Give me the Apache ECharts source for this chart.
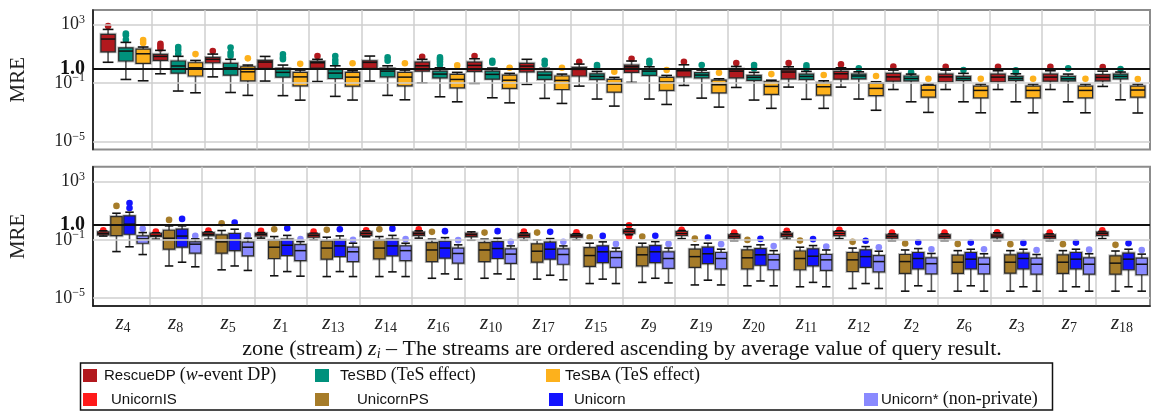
<!DOCTYPE html>
<html>
<head>
<meta charset="utf-8">
<script src="https://cdn.jsdelivr.net/npm/echarts@6/dist/echarts.min.js"></script>
<style>
  html, body { margin: 0; padding: 0; background: #fff; }
  #chart { width: 1152px; height: 412px; }
</style>
</head>
<body>
<div id="chart"></div>
<script>
// zones, ordered ascending by average query result
var zones = ['z4', 'z8', 'z5', 'z1', 'z13', 'z14', 'z16', 'z10', 'z17', 'z15',
             'z9', 'z19', 'z20', 'z11', 'z12', 'z2', 'z6', 'z3', 'z7', 'z18'];

// y ticks (MRE, log)
var yTicks = [1e3, 1e-1, 1e-5];
var yTickLabels = ['10{s|3}', '10{s|−1}', '10{s|−5}'];
var refValue = 1;
var refLabel = '1.0';

// box stats per zone: [min, q1, median, q3, max]
var rescueDP = [
  [2.7, 14, 105, 220, 480], [0.44, 3.6, 6.8, 9.4, 17.6], [0.27, 2.5, 4.3, 5.8, 9.8], [0.14, 1.03, 2.8, 3.6, 6.8],
  [0.13, 1.08, 2.5, 3.1, 4.3], [0.14, 1.03, 2.65, 3.4, 7.2], [0.106, 0.67, 1.55, 2.8, 4.3], [0.097, 0.64, 1.65, 2.8, 4.7],
  [0.083, 0.6, 1.48, 2.3, 4.3], [0.063, 0.31, 0.88, 1.2, 2.03], [0.113, 0.55, 1.33, 1.74, 3.3], [0.07, 0.27, 0.71, 0.88, 1.82],
  [0.051, 0.23, 0.67, 0.92, 1.4], [0.054, 0.2, 0.58, 0.79, 1.33], [0.054, 0.19, 0.44, 0.64, 1.13], [0.037, 0.14, 0.27, 0.47, 0.79],
  [0.037, 0.125, 0.27, 0.42, 0.79], [0.037, 0.125, 0.26, 0.42, 0.71], [0.037, 0.14, 0.26, 0.42, 0.71], [0.06, 0.146, 0.25, 0.38, 0.67]
];
var tesbd = [
  [0.18, 3.3, 15.8, 26, 62], [0.029, 0.49, 1.5, 3.3, 6.9], [0.023, 0.36, 1.13, 2.3, 4.3], [0.014, 0.26, 0.55, 1.03, 1.74],
  [0.0125, 0.21, 0.49, 0.83, 1.55], [0.0146, 0.27, 0.67, 1.03, 1.55], [0.0117, 0.23, 0.42, 0.67, 1.13], [0.01, 0.19, 0.4, 0.67, 1.08],
  [0.0091, 0.18, 0.36, 0.6, 1.03], [0.0082, 0.18, 0.29, 0.44, 0.64], [0.0082, 0.34, 0.67, 0.88, 1.33], [0.0095, 0.23, 0.36, 0.52, 0.79],
  [0.007, 0.155, 0.25, 0.34, 0.55], [0.0079, 0.18, 0.29, 0.42, 0.64], [0.0082, 0.2, 0.31, 0.42, 0.6], [0.0053, 0.146, 0.21, 0.31, 0.42],
  [0.0053, 0.155, 0.21, 0.29, 0.47], [0.0053, 0.155, 0.21, 0.29, 0.44], [0.0053, 0.146, 0.2, 0.29, 0.42], [0.0073, 0.2, 0.29, 0.42, 0.58]
];
var tesba = [
  [0.146, 2.3, 10.3, 21.6, 30], [0.022, 0.31, 1.13, 2.5, 3.6], [0.0146, 0.146, 0.6, 1.33, 1.74], [0.0069, 0.066, 0.27, 0.55, 0.79],
  [0.007, 0.063, 0.26, 0.55, 0.71], [0.0073, 0.066, 0.26, 0.55, 0.79], [0.0053, 0.048, 0.18, 0.4, 0.55], [0.0045, 0.044, 0.16, 0.36, 0.47],
  [0.0041, 0.037, 0.155, 0.31, 0.42], [0.0027, 0.0246, 0.087, 0.18, 0.25], [0.0035, 0.032, 0.12, 0.25, 0.34], [0.0023, 0.022, 0.078, 0.16, 0.2],
  [0.0019, 0.017, 0.06, 0.125, 0.16], [0.0019, 0.015, 0.057, 0.106, 0.146], [0.0014, 0.014, 0.044, 0.097, 0.125], [0.001, 0.011, 0.034, 0.07, 0.087],
  [0.00094, 0.01, 0.032, 0.063, 0.087], [0.00094, 0.01, 0.032, 0.063, 0.087], [0.00094, 0.01, 0.032, 0.063, 0.087], [0.00091, 0.011, 0.034, 0.063, 0.087]
];
var unicornIS = [
  [0.18, 0.22, 0.27, 0.35, 0.41], [0.11, 0.17, 0.2, 0.28, 0.3], [0.11, 0.19, 0.24, 0.31, 0.35], [0.13, 0.185, 0.24, 0.28, 0.31],
  [0.1, 0.15, 0.2, 0.25, 0.28], [0.16, 0.2, 0.27, 0.35, 0.41], [0.13, 0.2, 0.26, 0.33, 0.41], [0.093, 0.166, 0.22, 0.28, 0.35],
  [0.093, 0.15, 0.2, 0.25, 0.3], [0.1, 0.15, 0.19, 0.23, 0.26], [0.22, 0.28, 0.37, 0.48, 0.56], [0.12, 0.2, 0.27, 0.37, 0.43],
  [0.088, 0.128, 0.17, 0.22, 0.25], [0.11, 0.166, 0.22, 0.28, 0.35], [0.12, 0.19, 0.27, 0.37, 0.41], [0.088, 0.128, 0.17, 0.22, 0.25],
  [0.088, 0.128, 0.17, 0.22, 0.25], [0.088, 0.14, 0.18, 0.24, 0.3], [0.088, 0.128, 0.17, 0.22, 0.25], [0.12, 0.2, 0.27, 0.33, 0.37]
];
var unicornPS = [
  [0.0155, 0.19, 1.05, 3.9, 6.6], [0.0016, 0.0226, 0.128, 0.45, 0.9], [0.00087, 0.012, 0.072, 0.217, 0.43], [0.00034, 0.0052, 0.031, 0.094, 0.166],
  [0.0003, 0.0047, 0.027, 0.084, 0.15], [0.0003, 0.0049, 0.027, 0.094, 0.166], [0.00023, 0.0032, 0.02, 0.064, 0.11], [0.00023, 0.0032, 0.02, 0.064, 0.11],
  [0.0002, 0.0029, 0.0165, 0.052, 0.098], [0.0001, 0.0015, 0.0083, 0.029, 0.058], [0.00012, 0.0016, 0.0093, 0.031, 0.058], [0.00008, 0.0013, 0.007, 0.0226, 0.045],
  [0.00007, 0.001, 0.0058, 0.02, 0.034], [0.00006, 0.00088, 0.0052, 0.017, 0.031], [0.000046, 0.00067, 0.0042, 0.0134, 0.027], [0.00003, 0.00049, 0.0032, 0.0098, 0.02],
  [0.00003, 0.00049, 0.0029, 0.0088, 0.018], [0.00003, 0.00051, 0.0029, 0.0093, 0.018], [0.00003, 0.00049, 0.0029, 0.0093, 0.018], [0.00003, 0.00044, 0.0025, 0.0079, 0.017]
];
var unicorn = [
  [0.033, 0.24, 1.17, 4.3, 7.8], [0.0029, 0.031, 0.18, 0.53, 0.9], [0.0016, 0.018, 0.098, 0.27, 0.53], [0.00066, 0.0083, 0.042, 0.11, 0.2],
  [0.00066, 0.0071, 0.038, 0.098, 0.185], [0.00063, 0.0079, 0.038, 0.11, 0.2], [0.00046, 0.0055, 0.027, 0.08, 0.14], [0.00046, 0.0052, 0.025, 0.075, 0.128],
  [0.00037, 0.0047, 0.0226, 0.068, 0.12], [0.0002, 0.0027, 0.015, 0.038, 0.072], [0.00023, 0.0027, 0.015, 0.04, 0.075], [0.00017, 0.0023, 0.011, 0.031, 0.058],
  [0.00015, 0.0018, 0.0093, 0.025, 0.045], [0.00012, 0.0016, 0.0075, 0.024, 0.04], [0.0001, 0.0013, 0.007, 0.02, 0.034], [0.00007, 0.001, 0.0052, 0.0134, 0.025],
  [0.00007, 0.001, 0.0047, 0.0134, 0.0226], [0.00006, 0.001, 0.0052, 0.0122, 0.0226], [0.00006, 0.001, 0.0047, 0.0134, 0.0226], [0.00006, 0.00088, 0.0047, 0.0122, 0.0226]
];
var unicornStar = [
  [0.0097, 0.058, 0.115, 0.185, 0.31], [0.0014, 0.012, 0.05, 0.072, 0.115], [0.00079, 0.0079, 0.031, 0.068, 0.128], [0.00032, 0.0037, 0.018, 0.047, 0.075],
  [0.0003, 0.0032, 0.015, 0.031, 0.058], [0.0003, 0.0037, 0.018, 0.038, 0.058], [0.0002, 0.0025, 0.0115, 0.027, 0.045], [0.0002, 0.0024, 0.0104, 0.024, 0.038],
  [0.00018, 0.0021, 0.0098, 0.024, 0.038], [0.0001, 0.0013, 0.006, 0.0155, 0.027], [0.00011, 0.0011, 0.0052, 0.015, 0.027], [0.00008, 0.001, 0.0052, 0.0134, 0.0226],
  [0.00007, 0.00088, 0.0042, 0.0098, 0.018], [0.00006, 0.00079, 0.0042, 0.0098, 0.02], [0.000046, 0.00063, 0.0032, 0.0083, 0.0165], [0.00003, 0.00046, 0.0023, 0.0058, 0.0115],
  [0.00003, 0.00046, 0.0021, 0.0058, 0.011], [0.00003, 0.00044, 0.0021, 0.0055, 0.0098], [0.00003, 0.00044, 0.0021, 0.0058, 0.011], [0.00003, 0.0004, 0.0021, 0.0055, 0.0104]
];

// outliers per zone
var rescueDPOut = [[810], [50, 35, 24], [15.8], [], [7.2], [], [6.4], [7.2], [], [2.9],
                   [4.7], [2.9], [2.4], [2.4], [1.93], [1.4], [1.33], [1.33], [1.33], [1.27]];
var tesbdOut = [[250, 190, 95], [30, 18.5, 10], [28, 12, 7.5], [9.4, 5.8, 4.3], [7.2, 3.8, 2.3], [5.8, 3.4],
                [5.8, 4.3, 2.9, 1.8], [3.4, 2.5], [3.4, 2.0], [1.74, 1.3], [3.4, 2.3], [1.74], [1.74, 1.03],
                [1.65, 1.03], [1.03], [0.55], [0.79], [0.75, 0.55], [1.03], [0.92]];
var tesbaOut = [[90, 56], [9.8], [5], [2.1], [2.3], [2.3], [1.65], [1.13], [1.13], [0.6],
                [0.79], [0.52], [0.42], [0.36], [0.31], [0.2], [0.2], [0.2], [0.2], [0.19]];
var unicornISOut = [[0.45], [0.37], [0.43], [0.41], [0.37], [0.45], [0.53], [], [0.36], [0.33],
                    [1.0, 0.166], [0.48], [0.31], [0.41], [0.48], [0.31], [0.31], [0.33], [0.31], [0.45]];
var unicornPSOut = [[21], [2.3], [1.37], [0.53], [0.48], [0.53], [0.35], [0.31], [0.31], [0.15],
                    [0.166], [0.12], [0.098], [0.088], [0.072], [0.055], [0.052], [0.05], [0.05], [0.045]];
var unicornOut = [[33, 15], [2.7], [1.5], [0.62], [0.53], [0.58], [0.39], [0.39], [0.35], [0.185],
                  [0.19], [0.14], [0.115], [0.11], [0.085], [0.068], [0.064], [0.061], [0.064], [0.058]];
var unicornStarOut = [[0.56], [0.185], [0.2], [0.11], [0.098], [0.11], [0.094], [0.072], [0.072], [0.052],
                      [0.052], [0.05], [0.037], [0.034], [0.031], [0.0226], [0.0226], [0.02], [0.021], [0.02]];

var SERIF = '"Liberation Serif", "DejaVu Serif", serif';
var SANS = '"Liberation Sans", "DejaVu Sans", sans-serif';
var LOG_MIN = Math.pow(10, -5.54);
var LOG_MAX = Math.pow(10, 4.01);

var topGroups = [
  { name: 'RescueDP', color: '#b2191e', box: rescueDP, out: rescueDPOut, offset: -0.34 },
  { name: 'TeSBD', color: '#00917c', box: tesbd, out: tesbdOut, offset: 0 },
  { name: 'TeSBA', color: '#fdb11c', box: tesba, out: tesbaOut, offset: 0.33 }
];
var bottomGroups = [
  { name: 'UnicornIS', color: '#ff1a1a', box: unicornIS, out: unicornISOut, offset: -0.375 },
  { name: 'UnicornPS', color: '#a67c29', box: unicornPS, out: unicornPSOut, offset: -0.124 },
  { name: 'Unicorn', color: '#1414ff', box: unicorn, out: unicornOut, offset: 0.124 },
  { name: 'Unicorn*', color: '#8a8aff', box: unicornStar, out: unicornStarOut, offset: 0.375 }
];

function boxRender(offset, widthFrac) {
  return function (params, api) {
    var i = api.value(0);
    var bw = api.size([1, 0])[0];
    var cx = api.coord([i, 1])[0] + offset * bw;
    var w = widthFrac * bw;
    var cap = w * 0.75;
    var yMin = api.coord([i, api.value(1)])[1];
    var yQ1 = api.coord([i, api.value(2)])[1];
    var yMed = api.coord([i, api.value(3)])[1];
    var yQ3 = api.coord([i, api.value(4)])[1];
    var yMax = api.coord([i, api.value(5)])[1];
    var color = api.visual('color');
    return {
      type: 'group',
      children: [
        { type: 'line', shape: { x1: cx, y1: yMax, x2: cx, y2: yQ3 }, style: { stroke: '#555', lineWidth: 1.6 } },
        { type: 'line', shape: { x1: cx, y1: yQ1, x2: cx, y2: yMin }, style: { stroke: '#555', lineWidth: 1.6 } },
        { type: 'line', shape: { x1: cx - cap / 2, y1: yMax, x2: cx + cap / 2, y2: yMax }, style: { stroke: '#111', lineWidth: 1.6 } },
        { type: 'line', shape: { x1: cx - cap / 2, y1: yMin, x2: cx + cap / 2, y2: yMin }, style: { stroke: '#111', lineWidth: 1.6 } },
        { type: 'rect', shape: { x: cx - w / 2, y: yQ3, width: w, height: Math.max(yQ1 - yQ3, 1) },
          style: { fill: 'none', stroke: 'rgba(0,0,0,0.25)', lineWidth: 3 } },
        { type: 'rect', shape: { x: cx - w / 2, y: yQ3, width: w, height: Math.max(yQ1 - yQ3, 1) },
          style: { fill: color, stroke: '#2a2a2a', lineWidth: 1.2 } },
        { type: 'line', shape: { x1: cx - w / 2, y1: yMed, x2: cx + w / 2, y2: yMed }, style: { stroke: '#111', lineWidth: 1.5 } }
      ]
    };
  };
}

function dotRender(offset) {
  return function (params, api) {
    var i = api.value(0);
    var bw = api.size([1, 0])[0];
    var p = api.coord([i, api.value(1)]);
    return { type: 'circle', shape: { cx: p[0] + offset * bw, cy: p[1], r: 3.3 }, style: { fill: api.visual('color') } };
  };
}

function boxData(arr) {
  return arr.map(function (s, i) { return [i].concat(s); });
}
function dotData(arr) {
  var out = [];
  arr.forEach(function (vals, i) { vals.forEach(function (v) { out.push([i, v]); }); });
  return out;
}

function groupSeries(groups, xIdx, yIdx, widthFrac) {
  var list = [];
  groups.forEach(function (g) {
    list.push({
      type: 'custom', name: g.name, xAxisIndex: xIdx, yAxisIndex: yIdx, z: 3,
      itemStyle: { color: g.color }, encode: { x: 0, y: [1, 2, 3, 4, 5] },
      renderItem: boxRender(g.offset, widthFrac), data: boxData(g.box), silent: true
    });
    list.push({
      type: 'custom', name: g.name, xAxisIndex: xIdx, yAxisIndex: yIdx, z: 2,
      itemStyle: { color: g.color }, encode: { x: 0, y: 1 },
      renderItem: dotRender(g.offset), data: dotData(g.out), silent: true
    });
  });
  return list;
}

var tickRich = {
  s: { fontFamily: SERIF, fontSize: 12, lineHeight: 12, verticalAlign: 'top', color: '#222' },
  b: { fontFamily: SERIF, fontSize: 20, fontWeight: 'bold', color: '#111' }
};

function gridLineSeries(xIdx, yIdx) {
  return [{
    type: 'line', xAxisIndex: xIdx, yAxisIndex: yIdx, data: [[0.5, 1]], symbol: 'none',
    lineStyle: { opacity: 0 }, silent: true, z: 1,
    markLine: {
      silent: true, symbol: 'none', animation: false, precision: 10,
      label: { position: 'start', distance: 8, fontFamily: SERIF, fontSize: 18, lineHeight: 22, color: '#222', rich: tickRich },
      lineStyle: { color: '#cfcfcf', width: 1.5, type: 'solid' },
      data: yTicks.map(function (v, k) { return { yAxis: v, label: { formatter: yTickLabels[k] } }; })
    }
  }, {
    type: 'line', xAxisIndex: xIdx, yAxisIndex: yIdx, data: [[0.5, 1]], symbol: 'none',
    lineStyle: { opacity: 0 }, silent: true, z: 6,
    markLine: {
      silent: true, symbol: 'none', animation: false, precision: 10,
      label: { position: 'start', distance: 8, fontFamily: SERIF, fontSize: 18, lineHeight: 22, color: '#111', rich: tickRich },
      lineStyle: { color: '#111', width: 2, type: 'solid' },
      data: [{ yAxis: refValue, label: { formatter: '{b|' + refLabel + '}' } }]
    }
  }];
}

function frameY(gridIndex) {
  return {
    type: 'log', min: LOG_MIN, max: LOG_MAX, gridIndex: gridIndex,
    name: 'MRE', nameLocation: 'middle', nameGap: 64, nameRotate: 90,
    nameTextStyle: { fontFamily: SERIF, fontSize: 21, color: '#222' },
    axisLine: { show: true, lineStyle: { color: '#111', width: 1.5 } },
    axisTick: { show: false }, axisLabel: { show: false }, splitLine: { show: false }
  };
}
function dataY(gridIndex) {
  return {
    type: 'log', min: LOG_MIN, max: LOG_MAX, gridIndex: gridIndex, show: false,
    axisLabel: { show: false }, splitLine: { show: false }
  };
}
function dataX(gridIndex, labels) {
  return {
    type: 'category', data: zones, gridIndex: gridIndex, boundaryGap: true,
    axisLine: { show: false }, axisTick: { show: false },
    splitLine: { show: true, interval: 0, showMinLine: false, showMaxLine: false, lineStyle: { color: '#cfcfcf', width: 1.5 } },
    axisLabel: labels ? {
      show: true, interval: 0, margin: 5, lineHeight: 24,
      formatter: function (v) { return '{z|z}{s|' + v.substring(1) + '}'; },
      rich: {
        z: { fontFamily: SERIF, fontStyle: 'italic', fontSize: 21, lineHeight: 24, color: '#222' },
        s: { fontFamily: SERIF, fontSize: 14, lineHeight: 14, verticalAlign: 'bottom', color: '#222' }
      }
    } : { show: false }
  };
}
function frameX(gridIndex, bottomLine) {
  return {
    type: 'value', min: 0, max: 1, gridIndex: gridIndex,
    axisLine: { show: bottomLine, onZero: false, lineStyle: { color: '#111', width: 1.5 } },
    axisTick: { show: false }, axisLabel: { show: false }, splitLine: { show: false }
  };
}

// legend + caption drawn as graphic text
var legendItems = [
  { color: '#b2191e', x: 83, y: 369, tx: 104, text: 'RescueDP {p|(}{i|w}{p|-event DP)}' },
  { color: '#00917c', x: 315, y: 369, tx: 340, text: 'TeSBD {p|(TeS effect)}' },
  { color: '#fdb11c', x: 546, y: 369, tx: 565, text: 'TeSBA {p|(TeS effect)}' },
  { color: '#ff1a1a', x: 83, y: 393, tx: 111, text: 'UnicornIS' },
  { color: '#a67c29', x: 315, y: 393, tx: 357, text: 'UnicornPS' },
  { color: '#1414ff', x: 549, y: 393, tx: 574, text: 'Unicorn' },
  { color: '#8a8aff', x: 864, y: 393, tx: 881, text: 'Unicorn* {p|(non-private)}' }
];
var legendRich = {
  p: { fontFamily: SERIF, fontSize: 18, color: '#111' },
  i: { fontFamily: SERIF, fontStyle: 'italic', fontSize: 18, color: '#111' }
};
var graphics = [
  { type: 'rect', shape: { x: 80.5, y: 363, width: 972, height: 47 }, style: { fill: 'none', stroke: '#111', lineWidth: 1.5 } },
  { type: 'text', x: 622, y: 349, style: {
      text: 'zone (stream) {z|z}{s|i} – The streams are ordered ascending by average value of query result.',
      fontFamily: SERIF, fontSize: 22, fill: '#111', align: 'center', verticalAlign: 'middle', textAlign: 'center', textVerticalAlign: 'middle',
      rich: {
        z: { fontFamily: SERIF, fontStyle: 'italic', fontSize: 22, lineHeight: 24, color: '#111' },
        s: { fontFamily: SERIF, fontStyle: 'italic', fontSize: 14, lineHeight: 14, verticalAlign: 'bottom', color: '#111' }
      }
  } }
];
legendItems.forEach(function (it) {
  graphics.push({ type: 'rect', shape: { x: it.x, y: it.y, width: 14, height: 13 }, style: { fill: it.color } });
  graphics.push({ type: 'text', x: it.tx, y: it.y + 6.5, style: {
    text: it.text, fontFamily: SANS, fontSize: 15, fill: '#111', verticalAlign: 'middle', textVerticalAlign: 'middle', rich: legendRich
  } });
});

var option = {
  animation: false,
  backgroundColor: '#fff',
  grid: [
    { left: 90, right: 2, top: 10, height: 139.5, show: true, borderColor: '#8c8c8c', borderWidth: 2 },
    { left: 99.7, width: 1047, top: 10, height: 139.5 },
    { left: 90, right: 2, top: 166.7, height: 139.3, show: true, borderColor: '#8c8c8c', borderWidth: 2 },
    { left: 96.7, width: 1051.6, top: 166.7, height: 139.3 }
  ],
  xAxis: [frameX(0, false), dataX(1, false), frameX(2, true), dataX(3, true)],
  yAxis: [frameY(0), dataY(1), frameY(2), dataY(3)],
  series: []
    .concat(gridLineSeries(0, 0))
    .concat(gridLineSeries(2, 2))
    .concat(groupSeries(topGroups, 1, 1, 0.273))
    .concat(groupSeries(bottomGroups, 3, 3, 0.215)),
  graphic: graphics
};

var chart = echarts.init(document.getElementById('chart'));
chart.setOption(option);
</script>
</body>
</html>
